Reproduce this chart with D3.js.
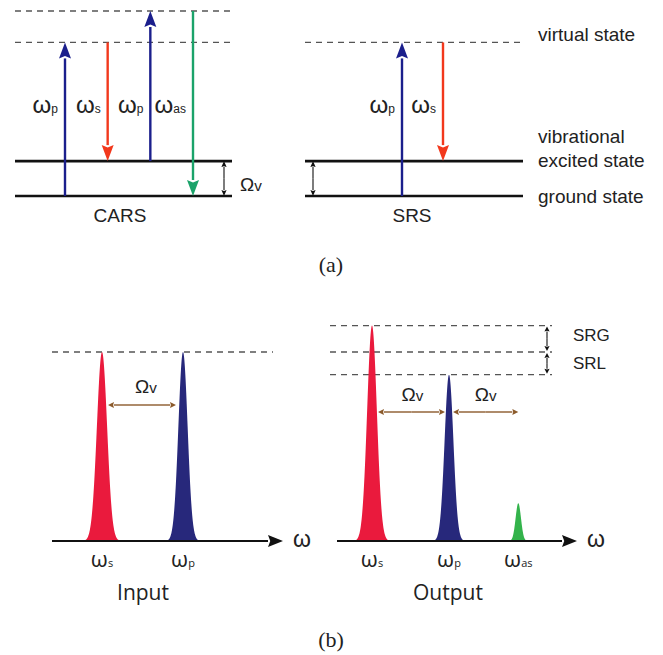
<!DOCTYPE html>
<html>
<head>
<meta charset="utf-8">
<script src="https://cdn.jsdelivr.net/npm/d3@7"></script>
<style>
  body { margin: 0; background: #fff; }
  text { font-family: "Liberation Sans", Arial, sans-serif; fill: #222; }
</style>
</head>
<body>
<div id="chart"></div>
<script>
// ---- (a) energy levels, in units of the vibrational quantum ----
const levelEnergy = [0, 1, 4.4];          // ground, vibrational excited, virtual
const carsUpperVirtual = 5.3;
const levelLabels = ["ground state", "vibrational", "excited state", "virtual state"];

// transitions: subscript label, start energy, end energy
const carsSub = ["p", "s", "p", "as"];
const carsFrom = [0, 4.4, 1, 5.3];
const carsTo = [4.4, 1, 5.3, 0];
const carsKind = ["pump", "stokes", "pump", "anti"];

const srsSub = ["p", "s"];
const srsFrom = [0, 4.4];
const srsTo = [4.4, 1];
const srsKind = ["pump", "stokes"];

// ---- (b) spectra, frequency relative to omega_s (units of Omega_v) ----
const peakSub = ["s", "p", "as"];
const peakPos = [0, 1, 1.9];
const peakSigma = [0.063, 0.057, 0.035];
const inputHeight = [1.0, 1.0, 0];
const outputHeight = [1.14, 0.88, 0.2];

const width = 663, height = 655;
const svg = d3.select("#chart").append("svg")
  .attr("width", width).attr("height", height);

const colors = {
  pump: "#1b1f8c", stokes: "#f2381c", anti: "#1ba36a",
  s: "#ea1a3d", p: "#27287b", as: "#33b34b", brown: "#8b5a2b"
};

// arrowhead helper: filled triangle with tip at (x2,y2)
function arrow(g, x1, y1, x2, y2, color, sw, hl, hw) {
  const a = Math.atan2(y2 - y1, x2 - x1);
  const bx = x2 - hl * Math.cos(a), by = y2 - hl * Math.sin(a);
  g.append("line")
    .attr("x1", x1).attr("y1", y1).attr("x2", bx).attr("y2", by)
    .attr("stroke", color).attr("stroke-width", sw);
  const px = -Math.sin(a) * hw, py = Math.cos(a) * hw;
  g.append("path")
    .attr("d", `M${x2},${y2}L${bx + px},${by + py}L${bx + hl * 0.15 * Math.cos(a)},${by + hl * 0.15 * Math.sin(a)}L${bx - px},${by - py}Z`)
    .attr("fill", color);
}
function doubleArrow(g, x1, y1, x2, y2, color, sw, hl, hw) {
  const mx = (x1 + x2) / 2, my = (y1 + y2) / 2;
  arrow(g, mx, my, x2, y2, color, sw, hl, hw);
  arrow(g, mx, my, x1, y1, color, sw, hl, hw);
}
function omega(g, x, y, sub, size, anchor) {
  const t = g.append("text").attr("x", x).attr("y", y)
    .attr("text-anchor", anchor).style("font-size", size + "px");
  t.append("tspan").text("ω");
  t.append("tspan").text(sub).style("font-size", (size * 0.5) + "px");
  return t;
}
function bigOmega(g, x, y, size) {
  const t = g.append("text").attr("x", x).attr("y", y)
    .attr("text-anchor", "middle").style("font-size", size + "px");
  t.append("tspan").text("Ω");
  t.append("tspan").text("v").style("font-size", (size * 0.8) + "px");
}

// ================= (a) =================
const yE = d3.scaleLinear().domain([0, carsUpperVirtual]).range([196, 11]);
const gA = svg.append("g");

function levelDiagram(x0, x1, dashed, sub, from, to, kind, xr) {
  const g = gA.append("g");
  dashed.forEach(e => {
    g.append("line").attr("x1", x0).attr("x2", x1 + 2)
      .attr("y1", yE(e)).attr("y2", yE(e))
      .attr("stroke", "#555").attr("stroke-width", 1.3)
      .attr("stroke-dasharray", "6,5");
  });
  levelEnergy.slice(0, 2).forEach(e => {
    g.append("line").attr("x1", x0).attr("x2", x1)
      .attr("y1", yE(e)).attr("y2", yE(e))
      .attr("stroke", "#111").attr("stroke-width", 2.6);
  });
  const xs = d3.scalePoint().domain(d3.range(sub.length)).range(xr);
  sub.forEach((s, i) => {
    const x = xs(i);
    arrow(g, x, yE(from[i]), x, yE(to[i]), colors[kind[i]], 2.4, 16, 6);
    omega(g, x - 7, 113, s, 24, "end");
  });
  return g;
}

const gCars = levelDiagram(15, 232, [levelEnergy[2], carsUpperVirtual],
  carsSub, carsFrom, carsTo, carsKind, [65, 193]);
doubleArrow(gCars, 224, yE(1), 224, yE(0), "#111", 1.1, 6, 2.6);
bigOmega(gCars, 251, 191, 19);
gCars.append("text").attr("x", 120).attr("y", 222)
  .attr("text-anchor", "middle").style("font-size", "19px").text("CARS");

const gSrs = levelDiagram(305, 523, [levelEnergy[2]],
  srsSub, srsFrom, srsTo, srsKind, [402, 443]);
doubleArrow(gSrs, 313, yE(1), 313, yE(0), "#111", 1.1, 6, 2.6);
gSrs.append("text").attr("x", 412).attr("y", 222)
  .attr("text-anchor", "middle").style("font-size", "19px").text("SRS");
const lblY = [yE(0) + 7, yE(1) - 18, yE(1) + 6, yE(levelEnergy[2]) - 1];
levelLabels.forEach((t, i) => {
  gSrs.append("text").attr("x", 538).attr("y", lblY[i])
    .style("font-size", "19px").text(t);
});

svg.append("text").attr("x", 331).attr("y", 272).attr("text-anchor", "middle")
  .style("font-family", "'Liberation Serif', serif")
  .style("font-size", "22px").text("(a)");

// ================= (b) =================
const yS = d3.scaleLinear().domain([0, 1]).range([541, 352]);
const area = d3.area().x(d => d[0]).y0(yS(0)).y1(d => yS(d[1]));

function spectrum(xr, heights, axisX0, axisX1, dashedLevels, dashX0, dashX1, caption, capX) {
  const g = svg.append("g");
  const x = d3.scaleLinear().domain([0, 1]).range(xr);
  dashedLevels.forEach(v => {
    g.append("line").attr("x1", dashX0).attr("x2", dashX1)
      .attr("y1", yS(v)).attr("y2", yS(v))
      .attr("stroke", "#555").attr("stroke-width", 1.3)
      .attr("stroke-dasharray", "6,5");
  });
  peakSub.forEach((s, i) => {
    if (!heights[i]) return;
    const pts = d3.range(-4, 4.001, 0.05).map(k => {
      const f = peakPos[i] + k * peakSigma[i];
      return [x(f), heights[i] * Math.exp(-0.5 * k * k)];
    });
    g.append("path").datum(pts).attr("d", area).attr("fill", colors[s]);
    omega(g, x(peakPos[i]), 567, s, 22, "middle")
      .style("font-family", "'Open Sans', sans-serif");
  });
  arrow(g, axisX0, yS(0), axisX1, yS(0), "#111", 2.2, 15, 6);
  g.append("text").attr("x", axisX1 + 10).attr("y", yS(0) + 6)
    .style("font-size", "23px").text("ω");
  g.append("text").attr("x", capX).attr("y", 600).attr("text-anchor", "middle")
    .style("font-family", "'Open Sans', sans-serif").style("font-size", "21px")
    .text(caption);
  return { g, x };
}

const inp = spectrum([102, 183], inputHeight, 52, 283, [1], 52, 273, "Input", 143);
doubleArrow(inp.g, inp.x(peakPos[0]) + 6, 405, inp.x(peakPos[1]) - 7, 405, colors.brown, 1.4, 6, 3);
bigOmega(inp.g, 146, 393, 19);

const out = spectrum([372, 449], outputHeight, 337, 577,
  [outputHeight[0], 1, outputHeight[1]], 330, 552, "Output", 448);
const ox = out.x;
doubleArrow(out.g, ox(peakPos[0]) + 6, 412, ox(peakPos[1]) - 4, 412, colors.brown, 1.4, 6, 3);
doubleArrow(out.g, ox(peakPos[1]) + 4, 412, ox(peakPos[2]), 412, colors.brown, 1.4, 6, 3);
bigOmega(out.g, (ox(peakPos[0]) + ox(peakPos[1])) / 2 + 2, 401, 19);
bigOmega(out.g, (ox(peakPos[1]) + ox(peakPos[2])) / 2 + 2, 401, 19);
doubleArrow(out.g, 547, yS(outputHeight[0]) + 1, 547, yS(1) - 1, "#111", 1.1, 5, 2.6);
doubleArrow(out.g, 547, yS(1) + 1, 547, yS(outputHeight[1]) - 1, "#111", 1.1, 5, 2.6);
out.g.append("text").attr("x", 573).attr("y", 341).style("font-size", "17px").text("SRG");
out.g.append("text").attr("x", 573).attr("y", 369).style("font-size", "17px").text("SRL");

svg.append("text").attr("x", 331).attr("y", 647).attr("text-anchor", "middle")
  .style("font-family", "'Liberation Serif', serif")
  .style("font-size", "22px").text("(b)");
</script>
</body>
</html>
